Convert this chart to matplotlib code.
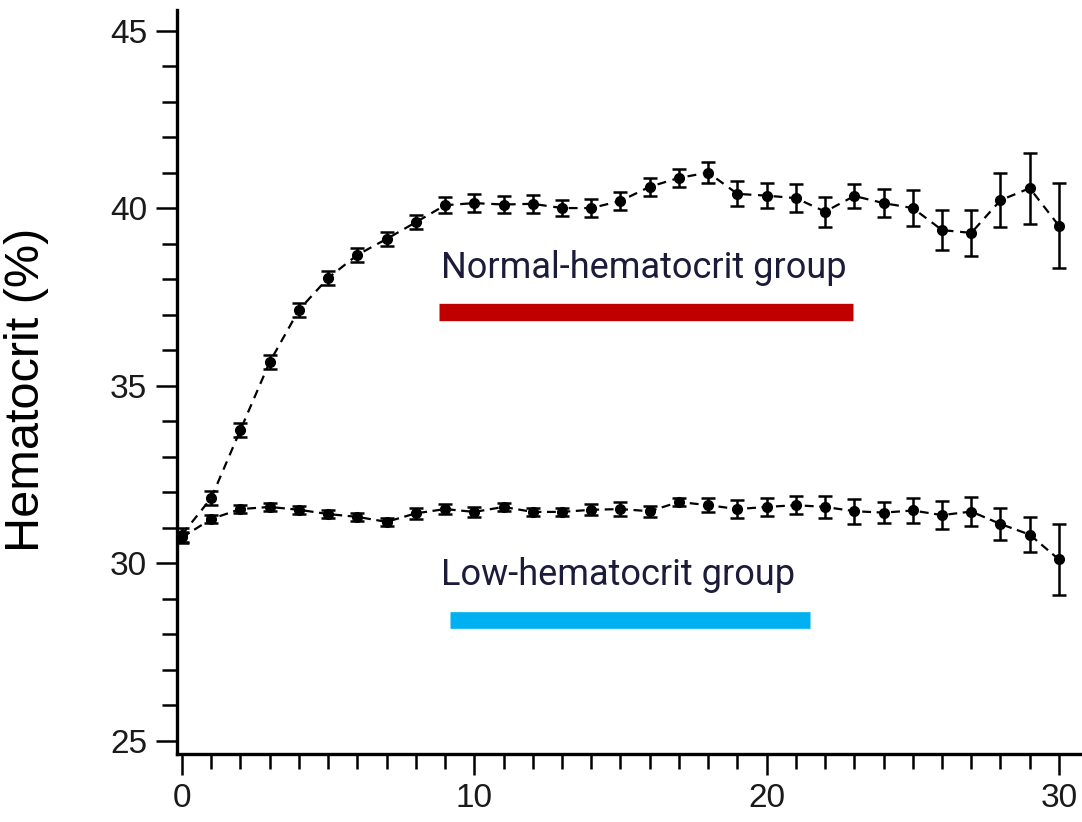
import matplotlib
matplotlib.use("Agg")
import matplotlib.pyplot as plt
from matplotlib.ticker import MultipleLocator

days = list(range(31))
normal_mean = [30.8, 31.83, 33.75, 35.66, 37.13, 38.03, 38.68, 39.13, 39.6, 40.08, 40.14,
               40.1, 40.12, 40.0, 40.0, 40.2, 40.6, 40.85, 41.0, 40.4, 40.35, 40.28, 39.9,
               40.34, 40.14, 40.0, 39.38, 39.3, 40.22, 40.56, 39.5]
normal_err = [0.2, 0.2, 0.2, 0.2, 0.2, 0.2, 0.2, 0.2, 0.2, 0.22, 0.25,
              0.25, 0.25, 0.22, 0.25, 0.25, 0.25, 0.25, 0.3, 0.35, 0.35, 0.4, 0.42,
              0.35, 0.4, 0.5, 0.56, 0.65, 0.76, 1.0, 1.2]
low_mean = [30.72, 31.24, 31.52, 31.58, 31.5, 31.38, 31.3, 31.16, 31.4, 31.52, 31.44,
            31.58, 31.44, 31.44, 31.5, 31.52, 31.46, 31.72, 31.63, 31.52, 31.58, 31.63, 31.58,
            31.46, 31.42, 31.48, 31.35, 31.45, 31.1, 30.8, 30.1]
low_err = [0.15, 0.12, 0.12, 0.12, 0.12, 0.12, 0.12, 0.12, 0.15, 0.15, 0.15,
           0.12, 0.12, 0.12, 0.15, 0.2, 0.15, 0.12, 0.2, 0.25, 0.25, 0.25, 0.3,
           0.35, 0.3, 0.35, 0.4, 0.4, 0.45, 0.5, 1.0]

ytick_labels = ["25", "30", "35", "40", "45"]
xtick_labels = ["0", "10", "20", "30"]
normal_label = "Normal-hematocrit group"
low_label = "Low-hematocrit group"
y_title = "Hematocrit (%)"

fig = plt.figure(figsize=(10.82, 8.22), dpi=100)
ax = fig.add_axes([177/1082, 68/822, (1080-177)/1082, (754-10)/822])

common = dict(color="black", marker="o", markersize=7, ecolor="black",
              elinewidth=1.8, capsize=5, capthick=1.8, linewidth=1.6)
ax.errorbar(days, normal_mean, yerr=normal_err, linestyle=(0, (4, 3)), **common)
ax.errorbar(days, low_mean, yerr=low_err, linestyle=(0, (4, 2.5)), **common)

ax.set_xlim(-0.17, 30.72)
ax.set_ylim(24.62, 45.58)

ax.spines["top"].set_visible(False)
ax.spines["right"].set_visible(False)
for s in ("left", "bottom"):
    ax.spines[s].set_linewidth(2.4)

tick_font = ["Liberation Sans", "DejaVu Sans"]
ax.set_yticks([25, 30, 35, 40, 45])
ax.set_yticklabels(ytick_labels, fontsize=24, family=tick_font, color="#1a1a1a")
ax.yaxis.set_minor_locator(MultipleLocator(1))
ax.set_xticks([0, 10, 20, 30])
ax.set_xticklabels(xtick_labels, fontsize=24, family=tick_font, color="#1a1a1a")
ax.xaxis.set_minor_locator(MultipleLocator(1))

ax.tick_params(axis="both", which="major", length=15, width=1.8, direction="out")
ax.tick_params(axis="both", which="minor", length=10.5, width=1.8, direction="out")
ax.tick_params(axis="y", which="major", pad=6.5)
ax.tick_params(axis="x", which="major", pad=6)

ax.set_ylabel(y_title, fontsize=35, family=tick_font, va="center")
ax.yaxis.set_label_coords((27 - 177) / 903, (754 - 390) / 744)

txtc = "#1c1c3a"
ax.text(8.86, 38.3, normal_label, fontsize=26, family=["Roboto", "DejaVu Sans"],
        color=txtc, va="center", ha="left")
ax.text(8.86, 29.66, low_label, fontsize=26, family=["Roboto", "DejaVu Sans"],
        color=txtc, va="center", ha="left")
ax.plot([8.79, 22.96], [37.08, 37.08], color="#c00000", linewidth=12.5, solid_capstyle="butt")
ax.plot([9.17, 21.48], [28.39, 28.39], color="#00b0f0", linewidth=12, solid_capstyle="butt")

fig.savefig("out.png", dpi=100)
